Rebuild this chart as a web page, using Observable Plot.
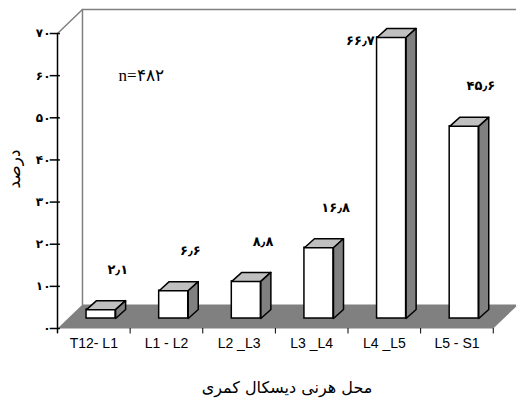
<!DOCTYPE html>
<html><head><meta charset="utf-8">
<script src="https://cdn.jsdelivr.net/npm/d3@7"></script>
<script src="https://cdn.jsdelivr.net/npm/@observablehq/plot@0.6"></script>
<style>
body{margin:0;background:#fff}
g[aria-label="x-axis tick label"] text{font-family:'Liberation Sans',Arial,sans-serif;font-size:14px}
g[aria-label="y-axis tick label"] text{font-family:'DejaVu Sans',sans-serif;font-size:12px;font-weight:bold}
g[aria-label="x-axis label"] text{font-family:'DejaVu Sans',sans-serif;font-size:16px}
g[aria-label="y-axis label"] text{font-family:'DejaVu Sans',sans-serif;font-size:17px}
</style>
</head><body><div id="chart"></div>
<script>
const categories = ["T12- L1","L1 - L2","L2 _L3","L3 _L4","L4 _L5","L5 - S1"];
const values = [2.1, 6.6, 8.8, 16.8, 66.7, 45.6];
const valueLabels = ["۲٫۱","۶٫۶","۸٫۸","۱۶٫۸","۶۶٫۷","۴۵٫۶"];
const yTicks = [0,10,20,30,40,50,60,70];
const yTickLabels = ["۰","۱۰","۲۰","۳۰","۴۰","۵۰","۶۰","۷۰"];
const xTitle = "محل هرنی دیسکال کمری";
const yTitle = "درصد";
const note = "n=۴۸۲";

const DX = 0.344, DY = 5.7;        // full floor depth (data units)
const BASE = 2.37;                  // floor level under the bars' front faces
const BDX = 0.138, BDY = 2.14;      // bar depth
const FL = 0.1, FR = 0.3;           // front face extent around category index

const n = categories.length;
const yMax = yTicks[yTicks.length-1];
const bars = categories.map((c,i)=>({c, i, v: values[i], x1: i-FL, x2: i+FR, y1: BASE, y2: BASE+values[i], label: valueLabels[i]}));
const poly = (pts, id) => pts.map(([x,y])=>({x,y,id}));
const tops = bars.flatMap(b => poly([[b.x1,b.y2],[b.x2,b.y2],[b.x2+BDX,b.y2+BDY],[b.x1+BDX,b.y2+BDY],[b.x1,b.y2]], b.i));
const sides = bars.flatMap(b => poly([[b.x2,b.y1],[b.x2,b.y2],[b.x2+BDX,b.y2+BDY],[b.x2+BDX,b.y1+BDY],[b.x2,b.y1]], b.i));
const floor = poly([[-0.5,0],[n-0.5,0],[n-0.5+DX,DY],[-0.5+DX,DY],[-0.5,0]], 0);
const wall = poly([[-0.5,yMax],[-0.5+DX,yMax+DY],[n-0.5+DX,yMax+DY],[n-0.5+DX,DY]], 0);
const wallLeft = poly([[-0.5+DX,yMax+DY],[-0.5+DX,DY]], 0);

const plot = Plot.plot({
  width: 516, height: 405,
  marginLeft: 57, marginRight: 0, marginTop: 9, marginBottom: 77,
  style: {fontFamily: "'Liberation Sans', Arial, sans-serif", background: "#fff", color: "#000"},
  x: {type: "linear", domain: [-0.5, n-0.5+0.32]},
  y: {domain: [0, yMax+DY]},
  marks: [
    Plot.line(floor, {x:"x", y:"y", fill:"#808080", stroke:"none"}),
    Plot.line(wallLeft, {x:"x", y:"y", stroke:"#808080", strokeWidth:1.5}),
    Plot.line(wall, {x:"x", y:"y", stroke:"#808080", strokeWidth:1.5}),
    Plot.ruleX([-0.5], {x: d=>d, y1: -1.2, y2: yMax, stroke:"#000", strokeWidth:1.5}),
    Plot.ruleY(yTicks, {y: d=>d, x1:-0.6, x2:-0.46, stroke:"#000", strokeWidth:1.5}),
    Plot.ruleX(d3.range(n+1).map(i=>i-0.5), {x: d=>d, y1: 0, y2: -1.3, stroke:"#000", strokeWidth:1}),
    Plot.rect(bars, {x1:"x1", x2:"x2", y1:"y1", y2:"y2", fill:"#fff", stroke:"#000", strokeWidth:1.5}),
    Plot.line(tops, {x:"x", y:"y", z:"id", fill:"#c0c0c0", stroke:"#000", strokeWidth:1.5, strokeLinejoin:"round"}),
    Plot.line(sides, {x:"x", y:"y", z:"id", fill:"#808080", stroke:"#000", strokeWidth:1.5, strokeLinejoin:"round"}),
    Plot.axisY({ticks: yTicks, tickFormat: d => yTickLabels[yTicks.indexOf(d)], tickSize: 0, tickPadding: 7,
      label: yTitle, labelAnchor: "center", labelOffset: 50, labelArrow: "none"}),
    Plot.axisX({ticks: d3.range(n), tickFormat: i => categories[i], tickSize: 0, tickPadding: 10,
      label: xTitle, labelAnchor: "center", labelOffset: 64, labelArrow: "none"}),
    Plot.text(bars, {x: d => d.v > 60 ? d.i - 0.33 : d.i + 0.33, y: d => d.y2 + (d.v > 60 ? -0.7 : 9.5),
      text: "label", fontSize: 13, fontWeight: "bold", fontFamily: "'DejaVu Sans', sans-serif", fill: "#000"}),
    Plot.text([note], {x: 0.65, y: 60, text: d => d, fontSize: 17, fontFamily: "'Liberation Serif', 'DejaVu Serif', serif", fill: "#000"})
  ]
});
document.getElementById("chart").appendChild(plot);
</script>
</body></html>
